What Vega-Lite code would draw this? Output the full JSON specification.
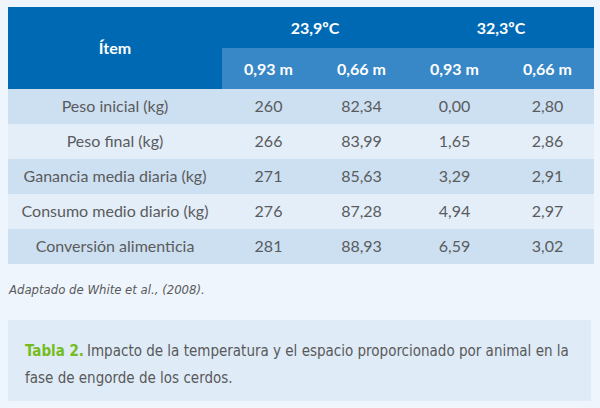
{
  "$schema": "https://vega.github.io/schema/vega-lite/v6.json",
  "width": 600,
  "height": 408,
  "autosize": {"type": "none"},
  "padding": 0,
  "background": "#eff5fc",
  "config": {"view": {"stroke": null}},
  "datasets": {
    "encabezado": [
      {"texto": "Ítem", "col": 0, "fila": -0.5},
      {"texto": "23,9ºC", "col": 1.5, "fila": -1},
      {"texto": "32,3ºC", "col": 3.5, "fila": -1},
      {"texto": "0,93 m", "col": 1, "fila": 0},
      {"texto": "0,66 m", "col": 2, "fila": 0},
      {"texto": "0,93 m", "col": 3, "fila": 0},
      {"texto": "0,66 m", "col": 4, "fila": 0}
    ],
    "filas": [{"fila": 1}, {"fila": 2}, {"fila": 3}, {"fila": 4}, {"fila": 5}],
    "celdas": [
      {"fila": 1, "col": 0, "texto": "Peso inicial (kg)"},
      {"fila": 1, "col": 1, "texto": "260"},
      {"fila": 1, "col": 2, "texto": "82,34"},
      {"fila": 1, "col": 3, "texto": "0,00"},
      {"fila": 1, "col": 4, "texto": "2,80"},
      {"fila": 2, "col": 0, "texto": "Peso final (kg)"},
      {"fila": 2, "col": 1, "texto": "266"},
      {"fila": 2, "col": 2, "texto": "83,99"},
      {"fila": 2, "col": 3, "texto": "1,65"},
      {"fila": 2, "col": 4, "texto": "2,86"},
      {"fila": 3, "col": 0, "texto": "Ganancia media diaria (kg)"},
      {"fila": 3, "col": 1, "texto": "271"},
      {"fila": 3, "col": 2, "texto": "85,63"},
      {"fila": 3, "col": 3, "texto": "3,29"},
      {"fila": 3, "col": 4, "texto": "2,91"},
      {"fila": 4, "col": 0, "texto": "Consumo medio diario (kg)"},
      {"fila": 4, "col": 1, "texto": "276"},
      {"fila": 4, "col": 2, "texto": "87,28"},
      {"fila": 4, "col": 3, "texto": "4,94"},
      {"fila": 4, "col": 4, "texto": "2,97"},
      {"fila": 5, "col": 0, "texto": "Conversión alimenticia"},
      {"fila": 5, "col": 1, "texto": "281"},
      {"fila": 5, "col": 2, "texto": "88,93"},
      {"fila": 5, "col": 3, "texto": "6,59"},
      {"fila": 5, "col": 4, "texto": "3,02"}
    ]
  },
  "layer": [
    {
      "data": {"values": [{"bloque": "encabezado"}]},
      "mark": {"type": "rule", "strokeWidth": 82, "strokeCap": "butt", "color": "#0069b4"},
      "encoding": {
        "x": {"datum": -1, "type": "quantitative", "scale": {"type": "linear", "domain": [-1, 0, 0.5, 4.5], "range": [8, 115, 222, 594], "zero": false, "nice": false}, "axis": null},
        "x2": {"datum": 4.5},
        "y": {"datum": -0.5, "type": "quantitative", "scale": {"type": "linear", "domain": [-1.5, 0.5, 5.5, 6, 7, 8], "range": [7, 89, 264, 290, 320, 401], "zero": false, "nice": false}, "axis": null}
      }
    },
    {
      "data": {"values": [{"bloque": "subencabezado"}]},
      "mark": {"type": "rule", "strokeWidth": 41, "strokeCap": "butt", "color": "#3887c7"},
      "encoding": {
        "x": {"datum": 0.5, "type": "quantitative", "axis": null},
        "x2": {"datum": 4.5},
        "y": {"datum": 0, "type": "quantitative", "axis": null}
      }
    },
    {
      "data": {"name": "filas"},
      "mark": {"type": "rule", "strokeWidth": 35, "strokeCap": "butt"},
      "encoding": {
        "x": {"datum": -1, "type": "quantitative", "axis": null},
        "x2": {"datum": 4.5},
        "y": {"field": "fila", "type": "quantitative", "axis": null},
        "color": {"field": "fila", "type": "nominal", "scale": {"domain": [1, 2, 3, 4, 5], "range": ["#cde0f1", "#e3eef8", "#cde0f1", "#e3eef8", "#cde0f1"]}, "legend": null}
      }
    },
    {
      "data": {"values": [{"bloque": "leyenda"}]},
      "mark": {"type": "rule", "strokeWidth": 81, "strokeCap": "butt", "color": "#dfebf6"},
      "encoding": {
        "x": {"datum": -1, "type": "quantitative", "axis": null},
        "x2": {"datum": 4.47},
        "y": {"datum": 7.5, "type": "quantitative", "axis": null}
      }
    },
    {
      "data": {"name": "encabezado"},
      "mark": {"type": "text", "font": "Lato", "fontWeight": "bold", "fontSize": 16, "color": "#ffffff", "baseline": "middle", "align": "center", "dy": 1},
      "encoding": {
        "x": {"field": "col", "type": "quantitative", "axis": null},
        "y": {"field": "fila", "type": "quantitative", "axis": null},
        "text": {"field": "texto"}
      }
    },
    {
      "data": {"name": "celdas"},
      "mark": {"type": "text", "font": "Lato", "fontSize": 16, "color": "#5a5b5d", "baseline": "middle", "align": "center"},
      "encoding": {
        "x": {"field": "col", "type": "quantitative", "axis": null},
        "y": {"field": "fila", "type": "quantitative", "axis": null},
        "text": {"field": "texto"}
      }
    },
    {
      "data": {"values": [{"texto": "Adaptado de White et al., (2008)."}]},
      "mark": {"type": "text", "font": "DejaVu Sans Condensed, Roboto", "fontStyle": "italic", "fontSize": 13, "color": "#58595b", "baseline": "middle", "align": "left", "dx": 1},
      "encoding": {
        "x": {"datum": -1, "type": "quantitative", "axis": null},
        "y": {"datum": 6, "type": "quantitative", "axis": null},
        "text": {"field": "texto"}
      }
    },
    {
      "data": {"values": [{"texto": "Tabla 2."}]},
      "mark": {"type": "text", "font": "DejaVu Sans Condensed, Roboto", "fontWeight": "bold", "fontSize": 15, "color": "#76bc21", "baseline": "alphabetic", "align": "left", "dx": 17, "dy": -4.5},
      "encoding": {
        "x": {"datum": -1, "type": "quantitative", "axis": null},
        "y": {"datum": 7.5, "type": "quantitative", "axis": null},
        "text": {"field": "texto"}
      }
    },
    {
      "data": {"values": [{"texto": "Impacto de la temperatura y el espacio proporcionado por animal en la"}]},
      "mark": {"type": "text", "font": "DejaVu Sans Condensed, Roboto", "fontSize": 15, "color": "#58595b", "baseline": "alphabetic", "align": "left", "dx": 79, "dy": -4.5},
      "encoding": {
        "x": {"datum": -1, "type": "quantitative", "axis": null},
        "y": {"datum": 7.5, "type": "quantitative", "axis": null},
        "text": {"field": "texto"}
      }
    },
    {
      "data": {"values": [{"texto": "fase de engorde de los cerdos."}]},
      "mark": {"type": "text", "font": "DejaVu Sans Condensed, Roboto", "fontSize": 15, "color": "#58595b", "baseline": "alphabetic", "align": "left", "dx": 17, "dy": 22.5},
      "encoding": {
        "x": {"datum": -1, "type": "quantitative", "axis": null},
        "y": {"datum": 7.5, "type": "quantitative", "axis": null},
        "text": {"field": "texto"}
      }
    }
  ]
}
